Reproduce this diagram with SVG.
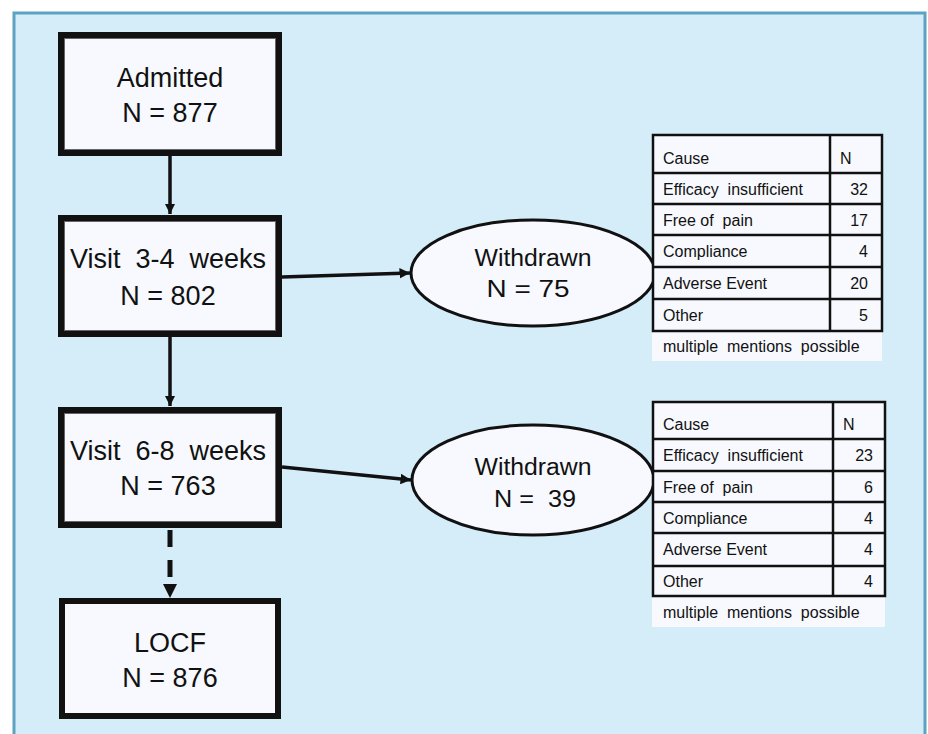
<svg xmlns="http://www.w3.org/2000/svg" width="928" height="734" viewBox="0 0 928 734">
<style>
.frame{fill:#d5ecf9;stroke:#5da3c1;stroke-width:3}
.box{fill:#f7f9fe;stroke:#111;stroke-width:6}
.inner{fill:none;stroke:#666;stroke-width:1}
.big{font-family:"Liberation Sans",Arial,sans-serif;font-size:27px;fill:#111;text-anchor:middle}
.mid{font-family:"Liberation Sans",Arial,sans-serif;font-size:23px;fill:#111;text-anchor:middle}
.ell{fill:#f7f9fe;stroke:#111;stroke-width:3}
.tbl{fill:#f7f9fe;stroke:#111;stroke-width:2.5}
.ln{stroke:#111;stroke-width:2.5}
.t{font-family:"Liberation Sans",Arial,sans-serif;font-size:16px;fill:#111}
.n{font-family:"Liberation Sans",Arial,sans-serif;font-size:16px;fill:#111;text-anchor:end}
.con{stroke:#111;stroke-width:3.5;fill:none}
</style>
<defs>
<marker id="ah" viewBox="0 0 10 10" refX="10" refY="5" markerWidth="3" markerHeight="3" orient="auto" markerUnits="strokeWidth">
<path d="M0,0 L10,5 L0,10 z" fill="#111"/>
</marker>
</defs>
<rect class="frame" x="14" y="13" width="911" height="740"/>

<g id="connectors">
<line class="con" x1="170" y1="156" x2="170" y2="214" marker-end="url(#ah)"/>
<line class="con" x1="170" y1="337" x2="170" y2="406" marker-end="url(#ah)"/>
<line x1="170" y1="530" x2="170" y2="580" stroke="#111" stroke-width="5" stroke-dasharray="17,13"/>
<path d="M163,584 L177,584 L170,598 z" fill="#111"/>
<line class="con" x1="282" y1="277" x2="410" y2="273" marker-end="url(#ah)"/>
<line class="con" x1="282" y1="467" x2="411" y2="480" marker-end="url(#ah)"/>
</g>

<g id="admitted">
<rect class="box" x="61" y="35" width="218" height="118"/>
<rect class="inner" x="64.5" y="38.5" width="211" height="111"/>
<text class="big" x="170" y="87">Admitted</text>
<text class="big" x="170" y="122">N = 877</text>
</g>

<g id="visit34">
<rect class="box" x="61" y="218" width="218" height="116"/>
<rect class="inner" x="64.5" y="221.5" width="211" height="109"/>
<text class="big" x="168" y="268" xml:space="preserve">Visit  3-4  weeks</text>
<text class="big" x="168" y="305">N = 802</text>
</g>

<g id="visit68">
<rect class="box" x="61" y="410" width="218" height="115"/>
<rect class="inner" x="64.5" y="413.5" width="211" height="108"/>
<text class="big" x="168" y="460" xml:space="preserve">Visit  6-8  weeks</text>
<text class="big" x="168" y="495">N = 763</text>
</g>

<g id="locf">
<rect class="box" x="62" y="601" width="216" height="115" stroke-width="4"/>
<text class="big" x="170" y="652">LOCF</text>
<text class="big" x="170" y="687">N = 876</text>
</g>

<g id="withdrawn1">
<ellipse class="ell" cx="533" cy="273" rx="122" ry="53"/>
<text class="mid" x="533" y="266" textLength="117" lengthAdjust="spacingAndGlyphs">Withdrawn</text>
<text class="mid" x="528" y="297" textLength="83" lengthAdjust="spacingAndGlyphs">N = 75</text>
</g>

<g id="withdrawn2">
<ellipse class="ell" cx="533" cy="480" rx="121" ry="55"/>
<text class="mid" x="533" y="475" textLength="117" lengthAdjust="spacingAndGlyphs">Withdrawn</text>
<text class="mid" x="535" y="507" textLength="82" lengthAdjust="spacingAndGlyphs" xml:space="preserve">N =  39</text>
</g>

<g id="table1">
<rect x="652" y="331" width="230" height="30" fill="#f7f9fe"/>
<rect class="tbl" x="653" y="135" width="229" height="196"/>
<line class="ln" x1="830" y1="135" x2="830" y2="331"/>
<line class="ln" x1="653" y1="173" x2="882" y2="173"/>
<line class="ln" x1="653" y1="204" x2="882" y2="204"/>
<line class="ln" x1="653" y1="235" x2="882" y2="235"/>
<line class="ln" x1="653" y1="267" x2="882" y2="267"/>
<line class="ln" x1="653" y1="299" x2="882" y2="299"/>
<text class="t" x="663" y="164">Cause</text><text class="t" x="840" y="164">N</text>
<text class="t" x="663" y="195" xml:space="preserve">Efficacy  insufficient</text><text class="n" x="868" y="195">32</text>
<text class="t" x="663" y="226" xml:space="preserve">Free of  pain</text><text class="n" x="868" y="226">17</text>
<text class="t" x="663" y="257">Compliance</text><text class="n" x="868" y="257">4</text>
<text class="t" x="663" y="289">Adverse Event</text><text class="n" x="868" y="289">20</text>
<text class="t" x="663" y="321">Other</text><text class="n" x="868" y="321">5</text>
<text class="t" x="663" y="352" xml:space="preserve">multiple  mentions  possible</text>
</g>

<g id="table2">
<rect x="652" y="596" width="233" height="31" fill="#f7f9fe"/>
<rect class="tbl" x="653" y="402" width="232" height="194"/>
<line class="ln" x1="833" y1="402" x2="833" y2="596"/>
<line class="ln" x1="653" y1="439" x2="885" y2="439"/>
<line class="ln" x1="653" y1="471" x2="885" y2="471"/>
<line class="ln" x1="653" y1="502" x2="885" y2="502"/>
<line class="ln" x1="653" y1="533" x2="885" y2="533"/>
<line class="ln" x1="653" y1="566" x2="885" y2="566"/>
<text class="t" x="663" y="430">Cause</text><text class="t" x="843" y="430">N</text>
<text class="t" x="663" y="461" xml:space="preserve">Efficacy  insufficient</text><text class="n" x="873" y="461">23</text>
<text class="t" x="663" y="493" xml:space="preserve">Free of  pain</text><text class="n" x="873" y="493">6</text>
<text class="t" x="663" y="524">Compliance</text><text class="n" x="873" y="524">4</text>
<text class="t" x="663" y="555">Adverse Event</text><text class="n" x="873" y="555">4</text>
<text class="t" x="663" y="587">Other</text><text class="n" x="873" y="587">4</text>
<text class="t" x="663" y="618" xml:space="preserve">multiple  mentions  possible</text>
</g>
</svg>
